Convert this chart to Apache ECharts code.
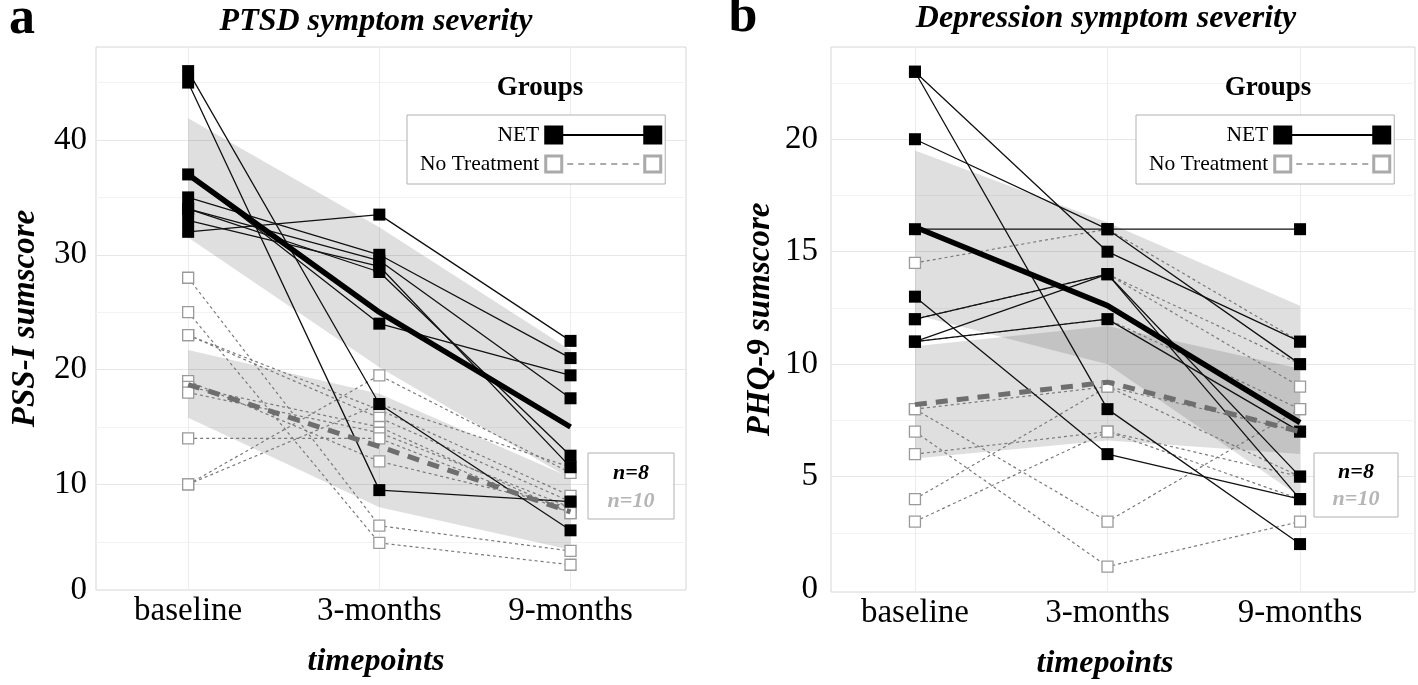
<!DOCTYPE html>
<html><head><meta charset="utf-8">
<script src="https://cdn.jsdelivr.net/npm/echarts@6/dist/echarts.min.js"></script>
<style>html,body{margin:0;padding:0;background:#fff}#c{width:1418px;height:685px}</style>
</head><body><div id="c"></div>
<script>
// ---------- data ----------
const timepoints = ['baseline', '3-months', '9-months'];

// Panel a: PSS-I sumscore (rows = participants, columns = timepoints)
const ptsdNET = [
  [46, 17, 6],
  [45, 9.5, 8.5],
  [37, 24, 19.5],
  [35, 30, 21],
  [34, 29.5, 17.5],
  [34, 28.5, 12.5],
  [33, 29, 11.5],
  [32, 33.5, 22.5]
];
const ptsdNT = [
  [28, 6.4, 4.2],
  [25, 4.9, 3],
  [23, 16.5, 9],
  [23, 15.8, 8.5],
  [19, 12, 8],
  [18.5, 15, 7.5],
  [18, 14.5, 8],
  [14, 14, 7.5],
  [10, 19.5, 11],
  [10, 17, 11.5]
];
const ptsdMeanNET = [37, 25, 15];
const ptsdMeanNT = [18.7, 13.3, 7.6];
const ptsdBandNETlo = [31.5, 20.2, 10.5];
const ptsdBandNEThi = [41.9, 32.4, 21.7];
const ptsdBandNTlo = [15.8, 8.0, 4.3];
const ptsdBandNThi = [21.7, 17.9, 10.6];
const ptsdTicks = [0.8, 10, 20, 30, 40];
const ptsdMajor = [10, 20, 30, 40];
const ptsdMinor = [5, 15, 25, 35, 45];

// Panel b: PHQ-9 sumscore
const phqNET = [
  [23, 15, 11],
  [23, 8, 2],
  [20, 16, 10],
  [16, 16, 16],
  [13, 6, 4],
  [12, 14, 5],
  [11, 14, 4],
  [11, 12, 7]
];
const phqNT = [
  [14.5, 16, 11],
  [12, 14, 9],
  [12, 14, 10],
  [11, 12, 8],
  [8, 9, 7],
  [8, 3, 8],
  [7, 1, 3],
  [6, 7, 5],
  [4, 9, 5],
  [3, 7, 4]
];
const phqMeanNET = [16.1, 12.6, 7.4];
const phqMeanNT = [8.2, 9.2, 7.0];
const phqBandNETlo = [12.2, 10.0, 4.1];
const phqBandNEThi = [19.5, 16.3, 12.6];
const phqBandNTlo = [5.8, 6.6, 6.0];
const phqBandNThi = [10.8, 11.7, 9.8];
const phqTicks = [0, 5, 10, 15, 20];
const phqMajor = [5, 10, 15, 20];
const phqMinor = [2.5, 7.5, 12.5, 17.5, 22.5];

const groupCounts = ['n=8', 'n=10'];

// ---------- helpers ----------
const SERIF = '"Liberation Serif", "Times New Roman", "DejaVu Serif", serif';
const pts = vals => vals.map((v, i) => [i, v]);

function gridSeries(ai, major, minor) {
  const d = [];
  minor.forEach(v => d.push({ yAxis: v, lineStyle: { color: '#f3f3f3', width: 1, type: 'solid' } }));
  major.forEach(v => d.push({ yAxis: v, lineStyle: { color: '#e6e6e6', width: 1, type: 'solid' } }));
  timepoints.forEach((t, i) => d.push({ xAxis: i, lineStyle: { color: '#ececec', width: 1, type: 'solid' } }));
  return {
    type: 'line', xAxisIndex: ai, yAxisIndex: ai, data: [], silent: true,
    markLine: { silent: true, z: 1, symbol: ['none', 'none'], label: { show: false }, animation: false, data: d }
  };
}
function bandSeries(ai, lo, hi) {
  return {
    type: 'custom', xAxisIndex: ai, yAxisIndex: ai, z: 2, silent: true,
    data: lo.map((v, i) => [i, v, hi[i]]),
    encode: { x: 0, y: [1, 2] },
    renderItem: (params, api) => {
      if (params.dataIndex !== 0) return null;
      const p = [];
      for (let i = 0; i < hi.length; i++) p.push(api.coord([i, hi[i]]));
      for (let i = lo.length - 1; i >= 0; i--) p.push(api.coord([i, lo[i]]));
      return { type: 'polygon', shape: { points: p }, style: { fill: 'rgba(0,0,0,0.125)' } };
    }
  };
}
function netSeries(ai, rows) {
  return rows.map((r, k) => ({
    type: 'line', name: 'net' + ai + '_' + k, xAxisIndex: ai, yAxisIndex: ai, data: pts(r),
    symbol: 'rect', symbolSize: 12, z: 4, silent: true,
    itemStyle: { color: '#000' }, lineStyle: { color: '#111', width: 1.3 }
  }));
}
function ntSeries(ai, rows) {
  return rows.map((r, k) => ({
    type: 'line', name: 'nt' + ai + '_' + k, xAxisIndex: ai, yAxisIndex: ai, data: pts(r),
    symbol: 'rect', symbolSize: 11, z: 3, silent: true,
    itemStyle: { color: '#fff', borderColor: '#9a9a9a', borderWidth: 1.3 },
    lineStyle: { color: '#7a7a7a', width: 1.2, type: [3, 3] }
  }));
}
function meanSeries(ai, netMean, ntMean) {
  return [
    { type: 'line', name: 'No Treatment', xAxisIndex: ai, yAxisIndex: ai, data: pts(ntMean), symbol: 'none', z: 5, silent: true,
      itemStyle: { color: '#aaaaaa' }, lineStyle: { color: '#6e6e6e', width: 5, type: [12, 9] } },
    { type: 'line', name: 'NET', xAxisIndex: ai, yAxisIndex: ai, data: pts(netMean), symbol: 'none', z: 6, silent: true,
      itemStyle: { color: '#000' }, lineStyle: { color: '#000', width: 5.5 } }
  ];
}

const iconNET = 'path://M0,0H19V19H0ZM19,8.5H99V10.5H19ZM99,0H118V19H99Z';
const iconNT = 'path://M0,0H19V19H0ZM3,3V16H16V3ZM23,8.5H29V10.5H23ZM34,8.5H40V10.5H34ZM45,8.5H51V10.5H45ZM56,8.5H62V10.5H56ZM67,8.5H73V10.5H67ZM78,8.5H84V10.5H78ZM89,8.5H95V10.5H89ZM99,0H118V19H99ZM102,3V16H115V3Z';
function legendAt(left) {
  return {
    orient: 'vertical', left: left, top: 115, align: 'right', selectedMode: false, z: 12,
    itemWidth: 118, itemHeight: 19, itemGap: 7, padding: [9, 3, 9, 13],
    backgroundColor: '#fff', borderColor: '#b0b0b0', borderWidth: 1,
    textStyle: { fontFamily: SERIF, fontSize: 21.5, color: '#000' },
    data: [
      { name: 'NET', icon: iconNET, itemStyle: { color: '#000', borderWidth: 0 } },
      { name: 'No Treatment', icon: iconNT, itemStyle: { color: '#aaaaaa', borderWidth: 0 } }
    ]
  };
}

const axisNameStyle = { fontFamily: SERIF, fontSize: 33, fontWeight: 'bold', fontStyle: 'italic', color: '#000' };
function xAxisFor(ai, min, max, pad) {
  return {
    type: 'value', gridIndex: ai, min: min, max: max,
    axisLine: { show: false }, axisTick: { show: false }, splitLine: { show: false },
    axisLabel: { customValues: [0, 1, 2], formatter: v => timepoints[Math.round(v)], fontFamily: SERIF, fontSize: 33, color: '#000', margin: 5 },
    name: 'timepoints', nameLocation: 'middle', nameGap: 56,
    nameTextStyle: Object.assign({ padding: [0, pad, 0, 0] }, axisNameStyle, { fontSize: 32 })
  };
}
function yAxisFor(ai, min, max, ticks, name, gap, margin) {
  return {
    type: 'value', gridIndex: ai, min: min, max: max,
    axisLine: { show: false }, axisTick: { show: false }, splitLine: { show: false },
    axisLabel: { customValues: ticks, formatter: v => String(Math.round(v / 5) * 5), fontFamily: SERIF, fontSize: 33, color: '#000', margin: margin },
    name: name, nameLocation: 'middle', nameRotate: 90, nameGap: gap, nameTextStyle: axisNameStyle
  };
}

const txt = (text, x, y, font, color, align) => ({
  type: 'text', x: x, y: y, silent: true, z: 20,
  style: { text: text, font: font, fill: color || '#000', align: align || 'center', verticalAlign: 'middle' }
});

const series = [].concat(
  gridSeries(0, ptsdMajor, ptsdMinor),
  bandSeries(0, ptsdBandNETlo, ptsdBandNEThi),
  bandSeries(0, ptsdBandNTlo, ptsdBandNThi),
  ntSeries(0, ptsdNT), netSeries(0, ptsdNET),
  meanSeries(0, ptsdMeanNET, ptsdMeanNT),
  gridSeries(1, phqMajor, phqMinor),
  bandSeries(1, phqBandNETlo, phqBandNEThi),
  bandSeries(1, phqBandNTlo, phqBandNThi),
  ntSeries(1, phqNT), netSeries(1, phqNET),
  meanSeries(1, phqMeanNET, phqMeanNT)
);

const chart = echarts.init(document.getElementById('c'), null, { renderer: 'canvas' });
chart.setOption({
  animation: false,
  backgroundColor: '#fff',
  textStyle: { fontFamily: SERIF },
  grid: [
    { left: 96, top: 47, width: 590, height: 543, show: true, backgroundColor: '#fff', borderColor: '#d6d6d6', borderWidth: 1 },
    { left: 831, top: 47, width: 584, height: 548, show: true, backgroundColor: '#fff', borderColor: '#d6d6d6', borderWidth: 1 }
  ],
  xAxis: [xAxisFor(0, -0.482, 2.604, 30), xAxisFor(1, -0.436, 2.597, 36)],
  yAxis: [
    yAxisFor(0, 0.8, 48.1, ptsdTicks, 'PSS-I sumscore', 54, 9),
    yAxisFor(1, -0.13, 24.1, phqTicks, 'PHQ-9 sumscore', 54, 13)
  ],
  legend: [legendAt(407), legendAt(1136)],
  series: series,
  graphic: [
    txt('a', 22, 20, 'bold 52px ' + SERIF),
    txt('b', 743, 18, 'bold 52px ' + SERIF),
    txt('PTSD symptom severity', 376, 22, 'italic bold 32px ' + SERIF),
    txt('Depression symptom severity', 1106, 19, 'italic bold 32px ' + SERIF),
    txt('Groups', 540, 88, 'bold 27px ' + SERIF),
    txt('Groups', 1268, 88, 'bold 27px ' + SERIF),
    { type: 'rect', shape: { x: 588, y: 453, width: 86, height: 66 }, style: { fill: '#fff', stroke: '#b0b0b0', lineWidth: 1 }, z: 10, silent: true },
    Object.assign(txt(groupCounts[0], 631, 473, 'italic bold 22px ' + SERIF, '#000'), { z: 11 }),
    Object.assign(txt(groupCounts[1], 631, 501, 'italic bold 22px ' + SERIF, '#b5b5b5'), { z: 11 }),
    { type: 'rect', shape: { x: 1314, y: 453, width: 84, height: 64 }, style: { fill: '#fff', stroke: '#b0b0b0', lineWidth: 1 }, z: 10, silent: true },
    Object.assign(txt(groupCounts[0], 1356, 472, 'italic bold 22px ' + SERIF, '#000'), { z: 11 }),
    Object.assign(txt(groupCounts[1], 1356, 499, 'italic bold 22px ' + SERIF, '#b5b5b5'), { z: 11 })
  ]
});
</script></body></html>
